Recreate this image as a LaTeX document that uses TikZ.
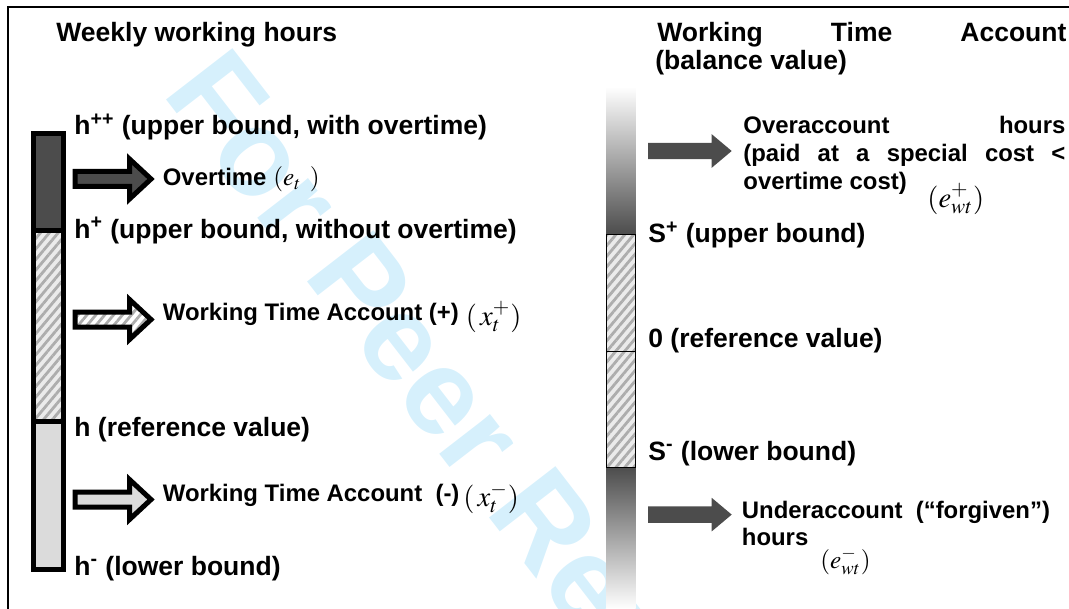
\documentclass[tikz,border=0pt]{standalone}
\usepackage{mathptmx}
\usepackage[no-math]{fontspec}
\setmainfont{Liberation Sans}
\usetikzlibrary{patterns.meta}

\definecolor{darkbar}{gray}{0.3}
\definecolor{lightbar}{gray}{0.86}
\definecolor{hatchbg}{gray}{0.92}
\definecolor{hatchfg}{gray}{0.68}
\definecolor{peerblue}{RGB}{214,240,252}

\tikzset{
  title/.style={font=\fontsize{13.25}{14}\selectfont\bfseries, inner sep=0pt, anchor=base west},
  note/.style={font=\fontsize{11.95}{14}\selectfont\bfseries, inner sep=0pt, anchor=base west},
  var/.style={font=\fontsize{14.3}{16}\selectfont, inner sep=0pt, anchor=base west},
  smallvar/.style={var, font=\fontsize{12.6}{14}\selectfont},
  watermark/.style={font=\fontsize{61}{61}\selectfont\bfseries, text=peerblue, inner sep=0pt, anchor=base west},
  hatch/.style={preaction={fill=hatchbg}, pattern={Lines[angle=50,distance=3.4pt,line width=1.4pt]}, pattern color=hatchfg},
  outlinearrow/.pic={\path[pic actions] (0,-7.5) -- (54.5,-7.5) -- (54.5,-20) -- (76,0) -- (54.5,20) -- (54.5,7.5) -- (0,7.5) -- cycle;},
  solidarrow/.pic={\path[pic actions] (0,-8.2) -- (63.7,-8.2) -- (63.7,-16.8) -- (83.7,0) -- (63.7,16.8) -- (63.7,8.2) -- (0,8.2) -- cycle;},
}

\begin{document}
\begin{tikzpicture}[x=0.5pt, y=-0.5pt]
\useasboundingbox (0,0) rectangle (1069,609);

\begin{scope}
\clip (8.3,6.7) rectangle (1069,609);
\node[watermark, rotate=-52.3] (peer) at (161,93) {For Peer Review};
\end{scope}

\draw[line width=1pt] (8.3,609) -- (8.3,6.7) -- (1069,6.7);

% weekly working hours bar
\fill[darkbar] (33.5,133.2) rectangle (63.5,230.7);
\path[hatch] (33.5,230.7) rectangle (63.5,421.7);
\fill[lightbar] (33.5,421.7) rectangle (63.5,569.2);
\draw[line width=2.5pt] (33.5,133.2) rectangle (63.5,569.2);
\draw[line width=2.5pt] (33.5,230.7) -- (63.5,230.7);
\draw[line width=2.5pt] (33.5,421.7) -- (63.5,421.7);

\pic[draw, line width=2.5pt, fill=darkbar] at (75,179) {outlinearrow};
\pic[draw, line width=2.5pt, hatch] at (75,319.5) {outlinearrow};
\pic[draw, line width=2.5pt, fill=lightbar] at (75,499.5) {outlinearrow};

% account bar
\shade[top color=white, bottom color=darkbar] (606.5,86.7) rectangle (635.5,234);
\shade[top color=darkbar, bottom color=white] (606.5,467) rectangle (635.5,609);
\path[hatch] (606.5,234) rectangle (635.5,467);
\draw[line width=0.5pt] (606.5,234) rectangle (635.5,467);
\draw[line width=0.5pt] (606.5,351.7) -- (635.5,351.7);

\pic[fill=darkbar] at (648,151) {solidarrow};
\pic[fill=darkbar] at (648,514.6) {solidarrow};

\node[title] (weekly) at (56,42) {Weekly working hours};
\node[title] (hpp) at (74,135) {h\textsuperscript{++} (upper bound, with overtime)};
\node[note] (overtime) at (162.5,185) {Overtime};
\node[smallvar] (et) at (273,185.6) {$(e_{t}\;\,)$};
\node[title] (hp) at (74,238.3) {h\textsuperscript{+} (upper bound, without overtime)};
\node[note] (wtaplus) at (162.5,320.7) {Working Time Account (+)};
\node[var] (xplus) at (465.5,325) {$(\,x_{t}^{+})$};
\node[title] (href) at (74,436) {h (reference value)};
\node[note] (wtaminus) at (162.5,501.7) {Working Time Account\ \ (-)};
\node[var] (xminus) at (463,506.7) {$(\,x_{t}^{-})$};
\node[title] (hm) at (74,575) {h\textsuperscript{-} (lower bound)};

\node[title] (wtaA) at (657,41.2) {\makebox[204.5pt][s]{Working Time Account}};
\node[title] (wtaB) at (655,69.2) {(balance value)};
\node[note] (overA) at (743,134) {\makebox[161pt][s]{Overaccount hours}};
\node[note] (overB) at (743,162) {\makebox[161pt][s]{(paid at a special cost <}};
\node[note] (overC) at (743,189.5) {overtime cost)};
\node[var] (ewtplus) at (927,207.5) {$(e_{wt}^{+})$};
\node[title] (splus) at (648,242.7) {S\textsuperscript{+} (upper bound)};
\node[title] (zero) at (648,347) {0 (reference value)};
\node[title] (sminus) at (648,460) {S\textsuperscript{-} (lower bound)};
\node[note] (underA) at (741.5,518) {Underaccount\ \ (“forgiven”)};
\node[note] (underB) at (741.5,545.5) {hours};
\node[smallvar] (ewtminus) at (820,568.6) {$(e_{wt}^{-})$};

\end{tikzpicture}
\end{document}
